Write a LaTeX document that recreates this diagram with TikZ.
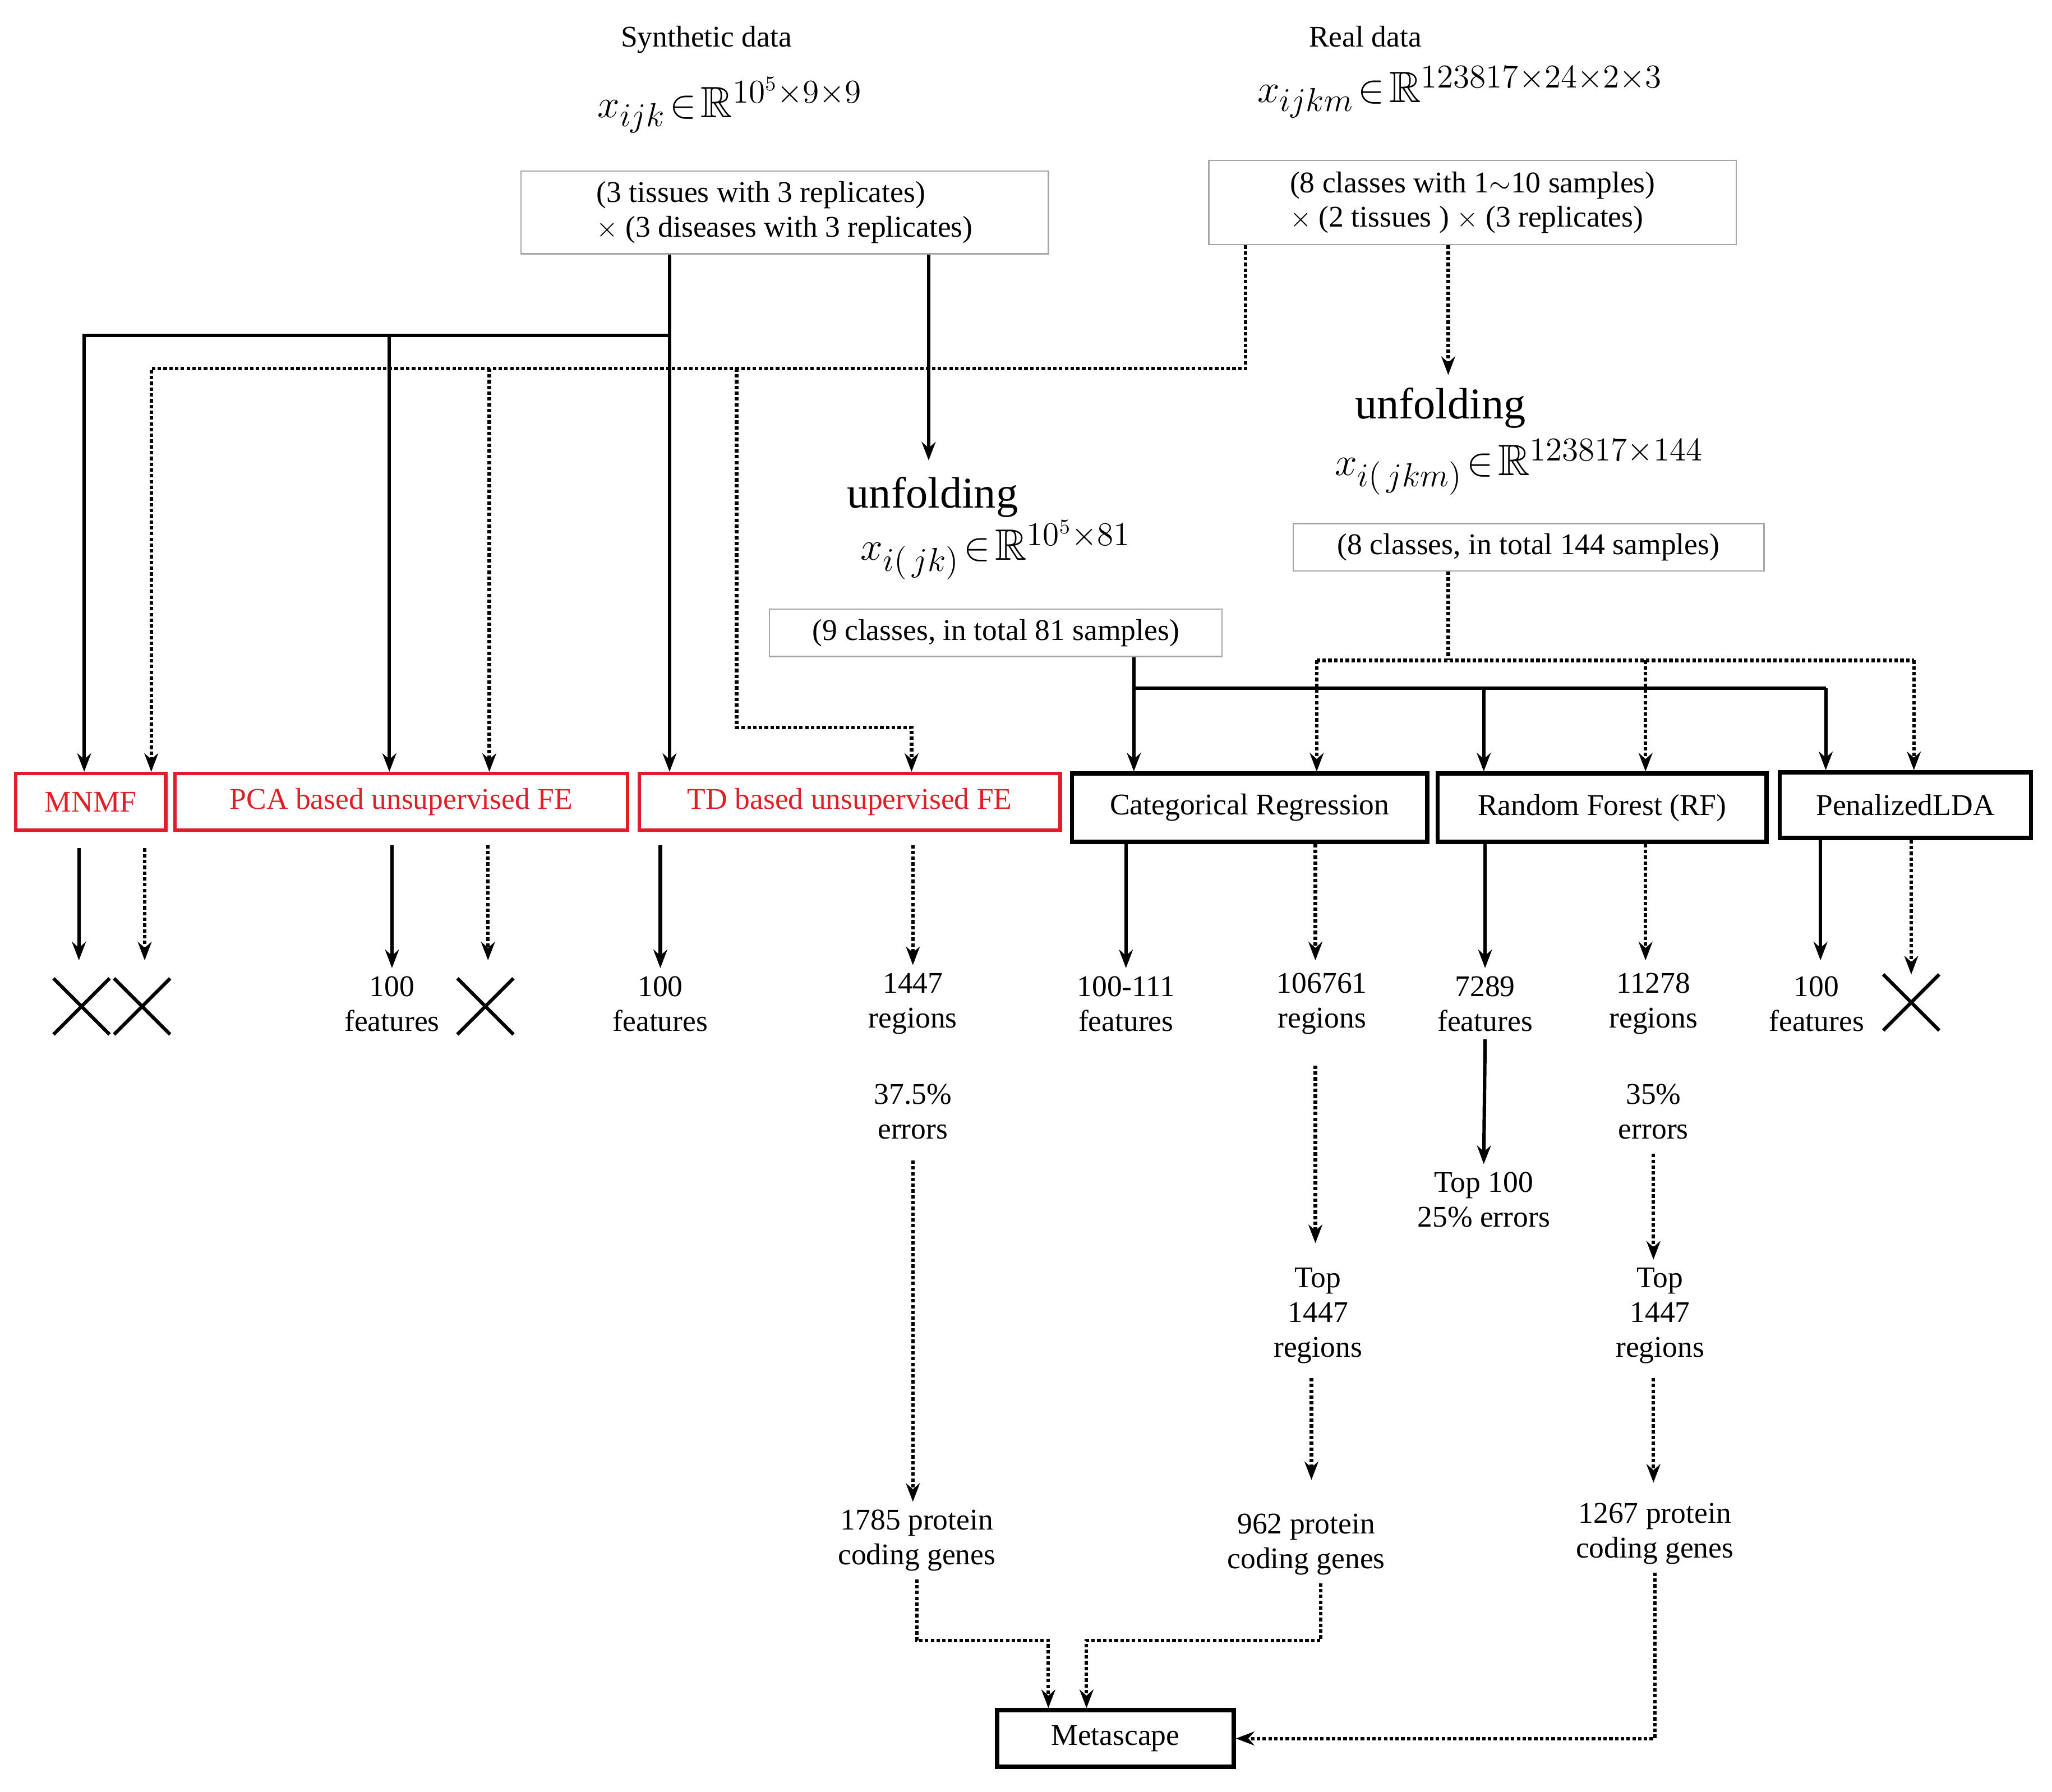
\documentclass[tikz,border=0pt]{standalone}
\usepackage{amsmath,amssymb}
\usepackage{fontspec}
\setmainfont{Liberation Serif}
\usetikzlibrary{arrows.meta,shapes.misc}
\definecolor{fered}{RGB}{225,30,40}
\tikzset{
  txt/.style={align=center, font=\fontsize{13}{15}\selectfont},
  mth/.style={font=\fontsize{19}{21}\selectfont},
  big/.style={font=\fontsize{19}{21}\selectfont},
  gbox/.style={draw=gray!70, line width=0.6pt, txt, align=left},
  redbox/.style={draw=fered, text=fered, line width=1.5pt, minimum height=0.86cm, txt},
  blkbox/.style={draw, line width=1.8pt, minimum height=1.04cm, txt},
  crs/.style={cross out, draw, line width=1.5pt, minimum size=0.8cm},
  sline/.style={line width=1.5pt},
  dline/.style={line width=1.5pt, densely dotted},
  sarr/.style={sline, -{Stealth[length=8pt,width=6pt]}},
  darr/.style={dline, -{Stealth[length=8pt,width=6pt]}},
}
\begin{document}
\begin{tikzpicture}[x=0.02cm, y=-0.02cm]
  \useasboundingbox (0,0) rectangle (1560,1362);
  % inputs
  \node[txt] (syn) at (537,30) {Synthetic data};
  \node[mth] (synx) at (555,80) {$x_{ijk}\!\in\!\mathbb{R}^{10^5\times9\times9}$};
  \node[gbox, minimum width=8.02cm, minimum height=1.26cm] (synb) at (596.5,161.5) {(3 tissues with 3 replicates)\\ $\times$ (3 diseases with 3 replicates)};
  \node[txt] (real) at (1038,28) {Real data};
  \node[mth] (realx) at (1110,70) {$x_{ijkm}\!\in\!\mathbb{R}^{123817\times24\times2\times3}$};
  \node[gbox, minimum width=8.02cm, minimum height=1.28cm] (realb) at (1119.5,154) {(8 classes with 1$\sim$10 samples)\\ $\times$ (2 tissues ) $\times$ (3 replicates)};
  % unfolding
  \node[big] (realu) at (1095,310) {unfolding};
  \node[mth] (realux) at (1155,355) {$x_{i(\,jkm)}\!\in\!\mathbb{R}^{123817\times144}$};
  \node[gbox, minimum width=7.16cm, minimum height=0.72cm] (realub) at (1162,416) {(8 classes, in total 144 samples)};
  \node[big] (synu) at (709,378) {unfolding};
  \node[mth] (synux) at (757,418) {$x_{i(\,jk)}\!\in\!\mathbb{R}^{10^5\times81}$};
  \node[gbox, minimum width=6.88cm, minimum height=0.72cm] (synub) at (757,481) {(9 classes, in total 81 samples)};
  % methods
  \node[redbox, minimum width=2.28cm] (mnmf) at (69,609.5) {MNMF};
  \node[redbox, minimum width=6.88cm] (pca) at (305,609.5) {PCA based unsupervised FE};
  \node[redbox, minimum width=6.4cm] (td) at (646,609.5) {TD based unsupervised FE};
  \node[blkbox, minimum width=5.4cm] (cat) at (950,614) {Categorical Regression};
  \node[blkbox, minimum width=5.0cm] (rf) at (1218,614) {Random Forest (RF)};
  \node[blkbox, minimum width=3.82cm, minimum height=1.0cm] (plda) at (1448.5,612) {PenalizedLDA};
  % results
  \node[crs] (x1) at (62,765) {};
  \node[crs] (x2) at (108,765) {};
  \node[txt] (p1) at (298,763) {100\\features};
  \node[crs] (x3) at (369,765) {};
  \node[txt] (t1) at (502,763) {100\\features};
  \node[txt] (t2) at (694,763) {1447\\regions};
  \node[txt] (c1) at (856,763) {100-111\\features};
  \node[txt] (c2) at (1005,763) {106761\\regions};
  \node[txt] (r1) at (1129,763) {7289\\features};
  \node[txt] (r2) at (1257,763) {11278\\regions};
  \node[txt] (l1) at (1381,763) {100\\features};
  \node[crs] (x4) at (1453,762) {};
  \node[txt] (e1) at (694,845) {37.5\%\\errors};
  \node[txt] (e2) at (1257,845) {35\%\\errors};
  \node[txt] (tp) at (1128,912) {Top 100\\25\% errors};
  \node[txt] (top1) at (1002,1000) {Top\\1447\\regions};
  \node[txt] (top2) at (1262,1000) {Top\\1447\\regions};
  \node[txt] (g1) at (697,1171) {1785 protein\\coding genes};
  \node[txt] (g2) at (993,1174) {962 protein\\coding genes};
  \node[txt] (g3) at (1258,1166) {1267 protein\\coding genes};
  \node[draw, line width=1.8pt, minimum width=3.6cm, minimum height=0.86cm, txt] (meta) at (848,1321.5) {Metascape};
  % wiring from synthetic data
  \coordinate (sa) at (509,255);
  \coordinate (sb) at (706,350);
  \draw[sarr] (sa |- synb.south) -- (sa) -| ([xshift=-0.1cm]mnmf.north);
  \draw[sarr] (sa) -| ([xshift=-0.18cm]pca.north);
  \draw[sarr] (sa) -- (sa |- td.north);
  \draw[sarr] (sb |- synb.south) -- (sb);
  % wiring from real data
  \coordinate (da) at (947,280);
  \coordinate (db) at (372,280);
  \coordinate (dc) at (560,280);
  \coordinate (dd) at (693,553);
  \coordinate (de) at (1101,285);
  \draw[darr] (da |- realb.south) -- (da) -| ([xshift=0.92cm]mnmf.north);
  \draw[darr] (db) -- (db |- pca.north);
  \draw[darr] (dc) |- (dd) -- (dd |- td.north);
  \draw[darr] (de |- realb.south) -- (de);
  % unfolded real data to classifiers
  \coordinate (df) at (1101,502);
  \coordinate (dg) at (1001,502);
  \coordinate (di) at (1251,502);
  \coordinate (dh) at (1455,502);
  \draw[dline] (df |- realub.south) -- (df);
  \draw[dline] (dg) -- (dh);
  \draw[darr] (dg) -- (dg |- cat.north);
  \draw[darr] (di) -- (di |- rf.north);
  \draw[darr] (dh) -- (dh |- plda.north);
  % unfolded synthetic data to classifiers
  \coordinate (sc) at (862,523);
  \coordinate (se) at (1128,523);
  \coordinate (sd) at (1388,523);
  \draw[sline] (sc |- synub.south) -- (sc) -- (sd);
  \draw[sarr] (sc) -- (sc |- cat.north);
  \draw[sarr] (se) -- (se |- rf.north);
  \draw[sarr] (sd) -- (sd |- plda.north);
  % methods to results
  \draw[sarr, shorten <=0.25cm] (mnmf.south -| 60,0) -- (60,730);
  \draw[darr, shorten <=0.25cm] (mnmf.south -| 110,0) -- (110,730);
  \draw[sarr, shorten <=0.2cm] (pca.south -| p1.north) -- (p1.north);
  \draw[darr, shorten <=0.2cm] (pca.south -| 371,0) -- (371,730);
  \draw[sarr, shorten <=0.2cm] (td.south -| t1.north) -- (t1.north);
  \draw[darr, shorten <=0.2cm] (td.south -| t2.north) -- (t2.north);
  \draw[sarr] (cat.south -| c1.north) -- (c1.north);
  \draw[darr] (cat.south -| 1000,0) -- (1000,730);
  \draw[sarr] (rf.south -| r1.north) -- (r1.north);
  \draw[darr] (rf.south -| 1251,0) -- (1251,730);
  \draw[sarr] (plda.south -| 1384,0) -- (1384,730);
  \draw[darr] (plda.south -| x4.north) -- (x4.north);
  % follow-up steps
  \draw[darr, shorten <=0.2cm] (e1.south) -- (e1.south |- g1.north);
  \draw[darr, shorten <=0.4cm] (1000,790) -- (1000,945);
  \draw[darr, shorten <=0.1cm] (top1.south -| 997,0) -- (997,1125);
  \draw[sarr] (r1.south) -- (tp.north);
  \draw[darr, shorten <=0.1cm] (e2.south) -- (e2.south |- top2.north);
  \draw[darr, shorten <=0.1cm] (top2.south -| 1257,0) -- (1257,1127);
  % to Metascape
  \coordinate (k1) at (797,1247);
  \coordinate (k2) at (826,1247);
  \draw[darr] (g1.south) |- (k1) -- (k1 |- meta.north);
  \draw[darr] (g2.south -| 1004,0) |- (k2) -- (k2 |- meta.north);
  \draw[darr] (g3.south) |- (meta.east);
\end{tikzpicture}
\end{document}
